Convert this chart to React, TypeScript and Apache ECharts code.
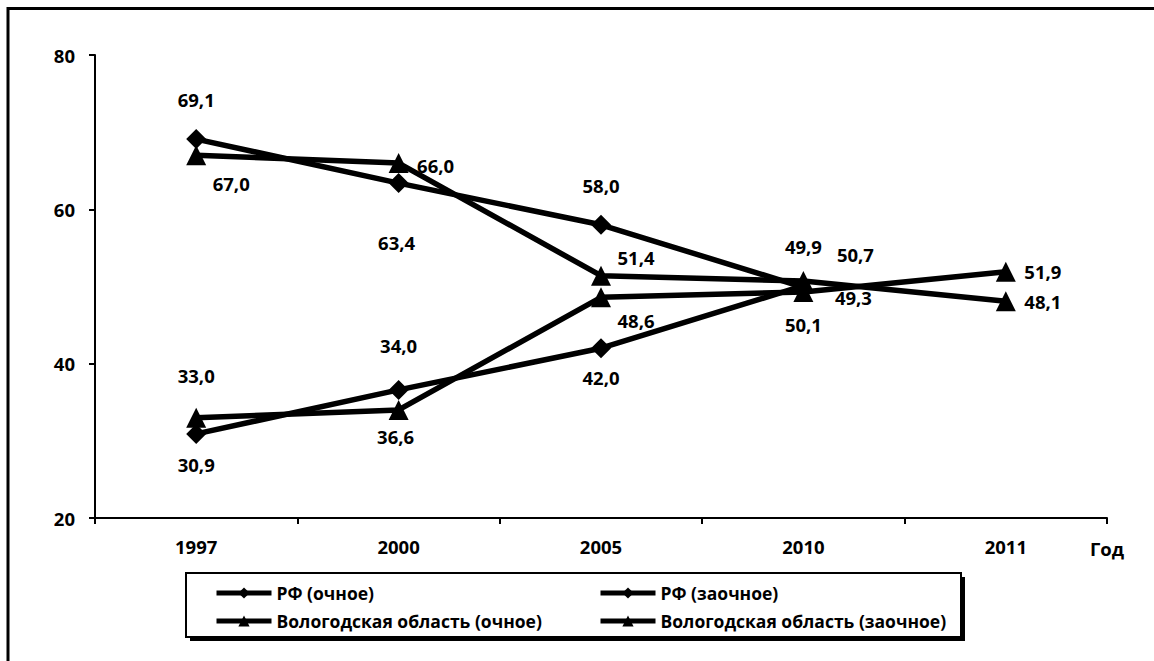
import React, { useEffect, useRef } from "react";
import * as echarts from "echarts";

const years = ["1997", "2000", "2005", "2010", "2011"];
const rfFull = [69.1, 63.4, 58.0, 49.9, null];
const rfPart = [30.9, 36.6, 42.0, 50.1, null];
const volFull = [67.0, 66.0, 51.4, 50.7, 48.1];
const volPart = [33.0, 34.0, 48.6, 49.3, 51.9];
const seriesNames = [
  "РФ (очное)",
  "РФ (заочное)",
  "Вологодская область (очное)",
  "Вологодская область (заочное)",
];
const yTicks = { min: 20, max: 80, interval: 20 };

// label offsets [dx, dy] relative to each point (pixels)
const rfFullOff = [[0, -40], [-2, 59], [0, -39], [0, -41], [0, 0]];
const rfPartOff = [[0, 31], [-3, 47], [0, 29], [0, 39], [0, 0]];
const volFullOff = [[35, 28], [37, 2], [35, -18], [52, -27], [37, 0]];
const volPartOff = [[0, -42], [0, -64], [35, 23], [50, 6], [37, 0]];
// hide markers at these indices
const rfHideSym = [3];

const FONT = "'Open Sans', 'Noto Sans', sans-serif";

function fmt(v: number) {
  return v.toFixed(1).replace(".", ",");
}

function buildData(vals: (number | null)[], offs: number[][], hide: number[] = []) {
  return vals.map((v, i) => {
    if (v === null) return null;
    const item: any = {
      value: v,
      label: { offset: offs[i] },
    };
    if (hide.includes(i)) item.symbolSize = 0;
    return item;
  });
}

export default function App() {
  const ref = useRef<HTMLDivElement>(null);
  useEffect(() => {
    document.body.style.margin = "0";
    const chart = echarts.init(ref.current!, undefined, { renderer: "svg" });
    const textStyle = {
      color: "#000",
      fontFamily: FONT,
      fontWeight: "bold" as any,
      fontSize: 18.5,
    };
    const mkSeries = (
      name: string,
      vals: (number | null)[],
      offs: number[][],
      symbol: string,
      size: number,
      hide: number[] = []
    ) => ({
      name,
      type: "line",
      data: buildData(vals, offs, hide),
      symbol,
      symbolSize: size,
      showAllSymbol: true,
      connectNulls: false,
      lineStyle: { color: "#000", width: 5.5 },
      itemStyle: { color: "#000" },
      label: {
        show: true,
        position: "inside",
        formatter: (p: any) => fmt(p.value),
        ...textStyle,
      },
      z: 3,
    });
    const legendBase = (name: string, left: number, top: number) => ({
      data: [name],
      left,
      top,
      itemWidth: 55,
      itemHeight: 14,
      itemGap: 0,
      padding: 0,
      selectedMode: false,
      lineStyle: { width: 5 },
      textStyle: { ...textStyle, fontSize: 17.5 },
    });
    chart.setOption({
      animation: false,
      backgroundColor: "#fff",
      grid: { left: 95, right: 47, top: 55, bottom: 143 },
      xAxis: {
        type: "category",
        data: years,
        boundaryGap: true,
        axisLine: { lineStyle: { color: "#000", width: 2 } },
        axisTick: { show: true, length: 6, lineStyle: { color: "#000", width: 2 } },
        axisLabel: { margin: 19, ...textStyle },
      },
      yAxis: {
        type: "value",
        min: yTicks.min,
        max: yTicks.max,
        interval: yTicks.interval,
        splitLine: { show: false },
        axisLine: { show: true, lineStyle: { color: "#000", width: 2 } },
        axisTick: { show: true, length: 6, lineStyle: { color: "#000", width: 2 } },
        axisLabel: { margin: 20, ...textStyle },
      },
      legend: [
        legendBase(seriesNames[0], 214, 584),
        legendBase(seriesNames[1], 598, 584),
        legendBase(seriesNames[2], 214, 612),
        legendBase(seriesNames[3], 598, 612),
      ],
      graphic: [
        {
          type: "rect",
          shape: { x: 8, y: 8.5, width: 1300, height: 800 },
          style: { fill: "none", stroke: "#000", lineWidth: 3 },
          silent: true,
        },
        {
          type: "rect",
          shape: { x: 190, y: 577, width: 775, height: 64 },
          style: { fill: "#000" },
          silent: true,
          z: -1,
        },
        {
          type: "rect",
          shape: { x: 186, y: 573, width: 775, height: 64 },
          style: { fill: "#fff", stroke: "#000", lineWidth: 2 },
          silent: true,
          z: -1,
        },
        {
          type: "text",
          x: 1107,
          y: 548,
          style: {
            text: "Год",
            fill: "#000",
            font: `bold 18.5px ${FONT}`,
            align: "center",
            verticalAlign: "middle",
          },
        },
      ],
      series: [
        mkSeries(seriesNames[0], rfFull, rfFullOff, "diamond", 20, rfHideSym),
        mkSeries(seriesNames[1], rfPart, rfPartOff, "diamond", 20, rfHideSym),
        mkSeries(seriesNames[2], volFull, volFullOff, "triangle", 20),
        mkSeries(seriesNames[3], volPart, volPartOff, "triangle", 20),
      ],
    });
    return () => chart.dispose();
  }, []);
  return <div ref={ref} style={{ width: 1154, height: 661 }} />;
}
